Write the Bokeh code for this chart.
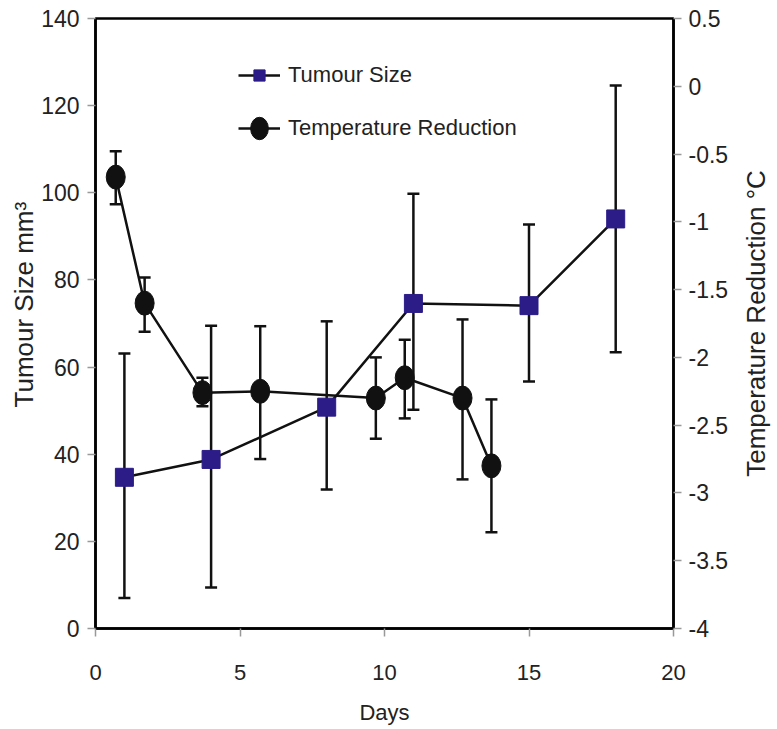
from bokeh.plotting import figure
from bokeh.layouts import row
from bokeh.models import (ColumnDataSource, Range1d, LinearAxis, Whisker, TeeHead,
                          Legend, LegendItem, FixedTicker, Title)
from bokeh.embed import file_html
from bokeh.resources import INLINE

# ---- data ----
days_tumour = [1, 4, 8, 11, 15, 18]
tumour_size = [34.7, 38.8, 50.8, 74.6, 74.1, 94.0]
tumour_upper = [63.1, 69.5, 70.5, 99.8, 92.7, 124.6]
tumour_lower = [7.0, 9.4, 31.9, 50.2, 56.7, 63.4]

days_temp = [0.7, 1.7, 3.7, 5.7, 9.7, 10.7, 12.7, 13.7]
temp_reduction = [-0.67, -1.60, -2.26, -2.25, -2.30, -2.15, -2.30, -2.80]
temp_upper = [-0.48, -1.41, -2.15, -1.77, -2.00, -1.87, -1.72, -2.31]
temp_lower = [-0.87, -1.81, -2.36, -2.75, -2.60, -2.45, -2.90, -3.29]

x_ticks = [0, 5, 10, 15, 20]
left_ticks = [0, 20, 40, 60, 80, 100, 120, 140]
right_ticks = [-4, -3.5, -3, -2.5, -2, -1.5, -1, -0.5, 0, 0.5]
right_labels = ["-4", "-3.5", "-3", "-2.5", "-2", "-1.5", "-1", "-0.5", "0", "0.5"]

FONT = "Liberation Sans"
SQ_COLOR = "#2b1c88"
TXT = "#222222"

p = figure(frame_width=578, frame_height=610, output_backend="svg", toolbar_location=None,
           x_range=Range1d(0, 20), y_range=Range1d(0, 140),
           min_border_left=95, min_border_right=60, min_border_top=18, min_border_bottom=98)
p.extra_y_ranges = {"temp": Range1d(-4, 0.5)}
p.grid.visible = False
p.outline_line_color = "black"
p.outline_line_width = 2.5
p.background_fill_color = "white"
p.border_fill_color = "white"

def style_axis(ax, size):
    ax.axis_line_color = "black"
    ax.axis_line_width = 2.5
    ax.major_tick_line_color = "#999999"
    ax.major_tick_line_width = 1.5
    ax.major_tick_in = 0
    ax.major_tick_out = 8
    ax.minor_tick_line_color = None
    ax.major_label_text_font = FONT
    ax.major_label_text_font_size = size
    ax.major_label_text_color = TXT
    ax.axis_label_text_font = FONT
    ax.axis_label_text_font_style = "normal"
    ax.axis_label_text_color = TXT

xa = p.xaxis[0]
style_axis(xa, "22px")
xa.ticker = FixedTicker(ticks=x_ticks)
xa.axis_label = "Days"
xa.axis_label_text_font_size = "22px"
xa.major_label_standoff = 28
xa.axis_label_standoff = 17

ya = p.yaxis[0]
style_axis(ya, "23px")
ya.ticker = FixedTicker(ticks=left_ticks)
ya.major_label_standoff = 8

ra = LinearAxis(y_range_name="temp")
style_axis(ra, "23px")
ra.ticker = FixedTicker(ticks=right_ticks)
ra.major_label_overrides = {float(t): s for t, s in zip(right_ticks, right_labels)}
ra.major_label_standoff = 7
p.add_layout(ra, "right")

left_title = Title(text="Tumour Size mm\u00b3", align="left", offset=221, standoff=0,
                   text_font=FONT, text_font_size="26px", text_font_style="normal",
                   text_color=TXT)
p.add_layout(left_title, "left")

src_t = ColumnDataSource(dict(x=days_tumour, y=tumour_size, up=tumour_upper, lo=tumour_lower))
src_c = ColumnDataSource(dict(x=days_temp, y=temp_reduction, up=temp_upper, lo=temp_lower))

def tee():
    return TeeHead(size=12, line_width=2.5, line_color="#111111")

w1 = Whisker(source=src_t, base="x", upper="up", lower="lo", line_color="#111111", line_width=2.5,
             upper_head=tee(), lower_head=tee())
w2 = Whisker(source=src_c, base="x", upper="up", lower="lo", y_range_name="temp",
             line_color="#111111", line_width=2.5, upper_head=tee(), lower_head=tee())
p.add_layout(w1)
p.add_layout(w2)

l_c = p.line("x", "y", source=src_c, y_range_name="temp", line_color="#111111", line_width=2.5)
l_t = p.line("x", "y", source=src_t, line_color="#111111", line_width=2.5)
m_t = p.scatter("x", "y", source=src_t, marker="square", size=18,
                fill_color=SQ_COLOR, line_color=SQ_COLOR)
m_c = p.ellipse("x", "y", source=src_c, y_range_name="temp", width=19, height=24,
                width_units="screen", height_units="screen",
                fill_color="#111111", line_color="#111111")

legend = Legend(items=[LegendItem(label="Tumour Size", renderers=[l_t, m_t]),
                       LegendItem(label="Temperature Reduction", renderers=[l_c, m_c])],
                location=(143, 486), orientation="vertical",
                glyph_width=42, glyph_height=28, label_height=28, spacing=25,
                label_standoff=8, padding=0, margin=0,
                border_line_color=None, background_fill_alpha=0,
                label_text_font=FONT, label_text_font_size="22px",
                label_text_color=TXT)
p.add_layout(legend)

# narrow companion panel that carries the right-hand axis title (reads bottom-to-top)
p2 = figure(frame_width=2, frame_height=610, output_backend="svg", toolbar_location=None,
            x_range=Range1d(0, 1), y_range=Range1d(0, 1),
            min_border_left=37, min_border_right=0, min_border_top=18, min_border_bottom=98)
p2.xaxis.visible = False
p2.yaxis.visible = False
p2.grid.visible = False
p2.outline_line_color = None
p2.background_fill_color = "white"
p2.border_fill_color = "white"
right_title = Title(text="Temperature Reduction \u00b0C", align="center", standoff=0,
                    text_font=FONT, text_font_size="26px", text_font_style="normal",
                    text_color=TXT)
p2.add_layout(right_title, "left")
p2.scatter([0.5], [0.5], size=0, alpha=0)

layout = row(p, p2, spacing=0)
open("out.html", "w").write(file_html(layout, INLINE))
